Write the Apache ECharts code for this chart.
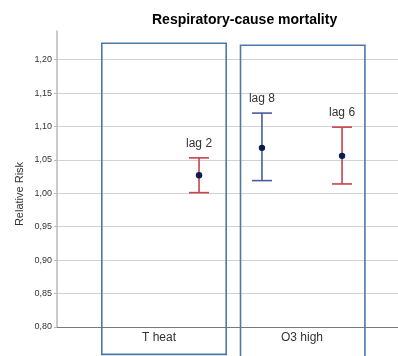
<!DOCTYPE html>
<html>
<head>
<meta charset="utf-8">
<script src="https://cdn.jsdelivr.net/npm/echarts@6/dist/echarts.min.js"></script>
<style>
  html, body { margin: 0; padding: 0; background: #fff; }
  #chart { width: 398px; height: 356px; }
</style>
</head>
<body>
<div id="chart"></div>
<script>
// categories on the x axis
const categories = ["T heat", "O3 high"];
const yTicks = [0.80, 0.85, 0.90, 0.95, 1.00, 1.05, 1.10, 1.15, 1.20];

// left slot (blue) estimates
const leftCat = ["O3 high"];
const leftLag = ["lag 8"];
const leftRR = [1.068];
const leftLow = [1.019];
const leftHigh = [1.120];

// right slot (red) estimates
const rightCat = ["T heat", "O3 high"];
const rightLag = ["lag 2", "lag 6"];
const rightRR = [1.027, 1.056];
const rightLow = [1.001, 1.014];
const rightHigh = [1.053, 1.099];

// layout (category units / axis values)
const slotOffset = 0.28;
const boxLeft = [-0.40, -0.43];
const boxRight = [0.47, 0.44];
const boxTop = [1.2245, 1.2215];
const boxBottom = [0.759, 0.754];

let myChart = echarts.init(document.getElementById("chart"));

function toRows(cats, lows, rrs, highs, lags) {
  return cats.map((c, i) => [categories.indexOf(c), lows[i], rrs[i], highs[i], lags[i]]);
}

function errorBar(offset, color) {
  return function(params, api) {
    let x = api.value(0) + offset;
    let pLo = api.coord([x, api.value(1)]);
    let pRR = api.coord([x, api.value(2)]);
    let pHi = api.coord([x, api.value(3)]);
    let capW = 10;
    let lineStyle = { stroke: color, lineWidth: 1.6 };
    return {
      type: "group",
      children: [
        { type: "line", shape: { x1: pLo[0], y1: pLo[1], x2: pHi[0], y2: pHi[1] }, style: lineStyle },
        { type: "line", shape: { x1: pHi[0] - capW, y1: pHi[1], x2: pHi[0] + capW, y2: pHi[1] }, style: lineStyle },
        { type: "line", shape: { x1: pLo[0] - capW, y1: pLo[1], x2: pLo[0] + capW, y2: pLo[1] }, style: lineStyle },
        { type: "circle", shape: { cx: pRR[0], cy: pRR[1], r: 3.2 }, style: { fill: "#0d1c4f" } },
        {
          type: "text",
          x: pHi[0],
          y: pHi[1] - 14,
          style: {
            text: api.value(4),
            fill: "#333",
            font: "12px 'Liberation Sans', Arial, sans-serif",
            align: "center",
            verticalAlign: "middle"
          }
        }
      ]
    };
  };
}

let option = {
  animation: false,
  title: {
    text: "Respiratory-cause mortality",
    left: 147,
    top: 8,
    textStyle: {
      fontFamily: "'Liberation Sans', Arial, sans-serif",
      fontSize: 14,
      fontWeight: "bold",
      color: "#000"
    }
  },
  graphic: [
    {
      type: "text",
      x: 20,
      y: 194,
      rotation: Math.PI / 2,
      style: {
        text: "Relative Risk",
        fill: "#333",
        font: "11px 'Liberation Sans', Arial, sans-serif",
        align: "center",
        verticalAlign: "middle"
      }
    }
  ],
  grid: {
    left: 57,
    right: 0,
    top: 31,
    bottom: 29
  },
  xAxis: {
    type: "value",
    min: -0.7133,
    max: 1.6713,
    axisLine: { show: true, onZero: false, lineStyle: { color: "#7a7a7a", width: 1 } },
    axisTick: { show: false },
    splitLine: { show: false },
    axisLabel: {
      customValues: [0, 1],
      formatter: function(v) {
        return categories[Math.round(v)];
      },
      margin: 5,
      color: "#333",
      fontSize: 12,
      fontFamily: "'Liberation Sans', Arial, sans-serif"
    }
  },
  yAxis: {
    type: "value",
    min: 0.8,
    max: 1.2428,
    interval: 0.05,
    axisLine: { show: true, onZero: false, lineStyle: { color: "#b8b8b8", width: 1.5 } },
    axisTick: {
      show: true,
      customValues: yTicks,
      length: 3,
      lineStyle: { color: "#b8b8b8" }
    },
    axisLabel: {
      customValues: yTicks,
      formatter: function(v) {
        return v.toFixed(2).replace(".", ",");
      },
      margin: 5,
      color: "#333",
      fontSize: 9,
      fontFamily: "'Liberation Sans', Arial, sans-serif"
    },
    splitLine: {
      show: true,
      lineStyle: { color: "#d2d2d2", width: 1.2 }
    }
  },
  series: [
    {
      type: "custom",
      clip: false,
      silent: true,
      data: categories.map((c, i) => [i]),
      renderItem: function(params, api) {
        let i = params.dataIndex;
        let cx = api.value(0);
        let tl = api.coord([cx + boxLeft[i], boxTop[i]]);
        let br = api.coord([cx + boxRight[i], boxBottom[i]]);
        return {
          type: "rect",
          shape: { x: tl[0], y: tl[1], width: br[0] - tl[0], height: br[1] - tl[1] },
          style: { fill: "none", stroke: "#4d79a8", lineWidth: 1.6 }
        };
      }
    },
    {
      type: "custom",
      clip: false,
      data: toRows(leftCat, leftLow, leftRR, leftHigh, leftLag),
      renderItem: errorBar(-slotOffset, "#4a5c9a")
    },
    {
      type: "custom",
      clip: false,
      data: toRows(rightCat, rightLow, rightRR, rightHigh, rightLag),
      renderItem: errorBar(slotOffset, "#c8424b")
    }
  ]
};

myChart.setOption(option);
</script>
</body>
</html>
